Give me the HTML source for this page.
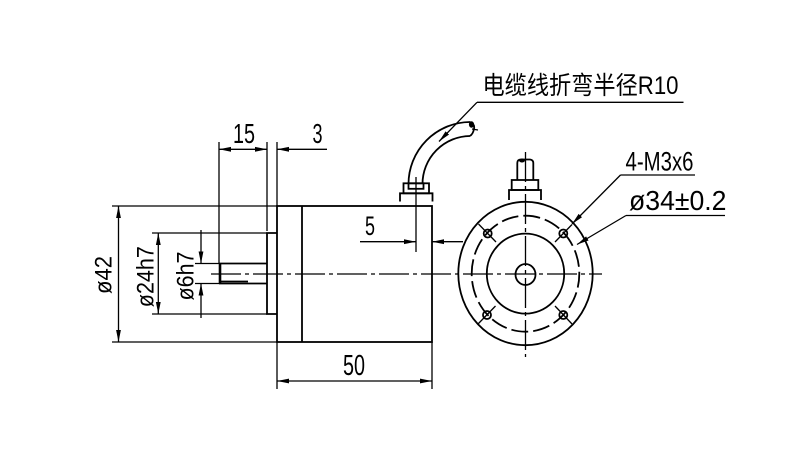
<!DOCTYPE html>
<html><head><meta charset="utf-8"><style>
html,body{margin:0;padding:0;background:#fff;}
svg{display:block;}
text{font-family:"Liberation Sans","Noto Sans CJK SC",sans-serif;fill:#000;}
</style></head><body>
<svg width="802" height="456" viewBox="0 0 802 456" xmlns="http://www.w3.org/2000/svg">
<defs>
<marker id="a" markerUnits="userSpaceOnUse" markerWidth="13" markerHeight="6" refX="12" refY="3" orient="auto-start-reverse">
<path d="M0,0.6 L12,3 L0,5.4 z" fill="#000"/>
</marker>
</defs>
<rect width="802" height="456" fill="#fff"/>
<g fill="none" stroke="#000" stroke-width="1.8">
<!-- motor body -->
<rect x="277" y="206" width="155" height="136"/>
<line x1="302" y1="206" x2="302" y2="342"/>
<!-- pilot -->
<path d="M277,233 H267 V314 H277"/>
<!-- shaft -->
<path d="M219,263.5 H267"/>
<path d="M219,283.5 H267"/>
<line x1="220" y1="281.5" x2="248" y2="281.5"/>
<line x1="220" y1="263" x2="220" y2="283" stroke-width="2.6"/>
<!-- connector left view -->
<path d="M400,201.5 V193.3 H432.5 V201.5"/>
<rect x="403.5" y="183.3" width="25.5" height="10"/>
<rect x="408.5" y="183.3" width="15" height="5.5"/>
<path d="M408.5,184 A62,62 0 0 1 470,122"/>
<path d="M422.5,184 A48,48 0 0 1 470,136"/>
<path d="M470,122 Q475,124 474,129 Q473,134 470,136"/>
<line x1="472" y1="129" x2="478" y2="130" stroke-width="1.2"/>
<!-- right view -->
<ellipse cx="525.5" cy="273.5" rx="67.2" ry="71.7"/>
<ellipse cx="525.5" cy="273.6" rx="38.7" ry="40"/>
<ellipse cx="525.5" cy="274.5" rx="10" ry="10.5"/>
<ellipse cx="525.5" cy="273.7" rx="53.8" ry="58" stroke-dasharray="17 5" stroke-dashoffset="3"/>
<circle cx="487.7" cy="233.5" r="4"/>
<circle cx="563.3" cy="233.5" r="4"/>
<circle cx="487" cy="315" r="4"/>
<circle cx="563.3" cy="315" r="4"/>
<path d="M509,200 V190 H541 V200"/>
<rect x="511.7" y="180" width="26.6" height="10"/>
<path d="M517.3,180 V163 Q517.3,159.5 521,159.5 L530,159.5 Q533.3,160 533.3,163 V180"/>
</g>
<ellipse cx="471.5" cy="124.5" rx="2.6" ry="3.2" fill="#000"/>
<ellipse cx="522" cy="160.5" rx="3" ry="2" fill="#000"/>
<!-- hole radial lines -->
<g stroke="#000" stroke-width="1.3">
<line x1="478.5" y1="224" x2="496" y2="242"/>
<line x1="572" y1="224.5" x2="555" y2="242"/>
<line x1="478" y1="324" x2="495.5" y2="306"/>
<line x1="572" y1="324" x2="555" y2="306"/>
</g>
<!-- center lines -->
<g stroke="#000" stroke-width="1.3" fill="none">
<line x1="211" y1="274" x2="602" y2="274" stroke-dasharray="30 4 4 4"/>
<line x1="525.5" y1="152" x2="525.5" y2="357" stroke-dasharray="30 4 4 4"/>
</g>
<!-- extension & dimension lines -->
<g stroke="#000" stroke-width="1.3" fill="none">
<line x1="219" y1="142" x2="219" y2="263.5"/>
<line x1="267" y1="142" x2="267" y2="231"/>
<line x1="277" y1="142" x2="277" y2="206"/>
<line x1="277" y1="342" x2="277" y2="389"/>
<line x1="432" y1="342" x2="432" y2="389"/>
<line x1="112" y1="206" x2="277" y2="206"/>
<line x1="112" y1="342" x2="277" y2="342"/>
<line x1="152" y1="233" x2="267" y2="233"/>
<line x1="152" y1="314" x2="267" y2="314"/>
<line x1="195" y1="263.5" x2="219" y2="263.5"/>
<line x1="195" y1="283.5" x2="219" y2="283.5"/>
<line x1="416" y1="177" x2="416" y2="252"/>
<line x1="219" y1="149.3" x2="267" y2="149.3" marker-start="url(#a)" marker-end="url(#a)"/>
<line x1="327" y1="149.3" x2="277" y2="149.3" marker-end="url(#a)"/>
<line x1="118.5" y1="206" x2="118.5" y2="342" marker-start="url(#a)" marker-end="url(#a)"/>
<line x1="158.3" y1="233" x2="158.3" y2="314" marker-start="url(#a)" marker-end="url(#a)"/>
<line x1="201" y1="230" x2="201" y2="263.5" marker-end="url(#a)"/>
<line x1="201" y1="318" x2="201" y2="283.5" marker-end="url(#a)"/>
<line x1="360" y1="241.7" x2="416" y2="241.7" marker-end="url(#a)"/>
<line x1="463" y1="241.7" x2="432" y2="241.7" marker-end="url(#a)"/>
<line x1="277" y1="381" x2="432" y2="381" marker-start="url(#a)" marker-end="url(#a)"/>
<!-- leaders -->
<line x1="477" y1="102.3" x2="683.5" y2="102.3"/>
<line x1="477" y1="102.3" x2="439" y2="141.5" marker-end="url(#a)"/>
<line x1="620.5" y1="175" x2="695" y2="175"/>
<line x1="620.5" y1="175" x2="572" y2="224" marker-end="url(#a)"/>
<line x1="626" y1="215.5" x2="725" y2="215.5"/>
<line x1="626" y1="215.5" x2="577" y2="244.5" marker-end="url(#a)"/>
</g>
<!-- texts -->
<text x="233" y="143" font-size="28" textLength="22" lengthAdjust="spacingAndGlyphs">15</text>
<text x="312.5" y="143" font-size="28" textLength="10" lengthAdjust="spacingAndGlyphs">3</text>
<text x="365" y="235" font-size="27" textLength="10" lengthAdjust="spacingAndGlyphs">5</text>
<text x="343" y="375" font-size="29" textLength="22" lengthAdjust="spacingAndGlyphs">50</text>
<text x="625.5" y="170.7" font-size="26.5" textLength="68" lengthAdjust="spacingAndGlyphs">4-M3x6</text>
<text x="629" y="210" font-size="27.5" textLength="97.5" lengthAdjust="spacingAndGlyphs">ø34±0.2</text>
<text x="482.5" y="94" font-size="25" textLength="196" lengthAdjust="spacingAndGlyphs">电缆线折弯半径R10</text>
<text transform="translate(111.7,275) rotate(-90)" x="-19" y="0" font-size="24" textLength="38" lengthAdjust="spacingAndGlyphs">ø42</text>
<text transform="translate(153.3,276.7) rotate(-90)" x="-30.5" y="0" font-size="24" textLength="61" lengthAdjust="spacingAndGlyphs">ø24h7</text>
<text transform="translate(193.3,276) rotate(-90)" x="-24.5" y="0" font-size="24" textLength="49" lengthAdjust="spacingAndGlyphs">ø6h7</text>
</svg>
</body></html>
